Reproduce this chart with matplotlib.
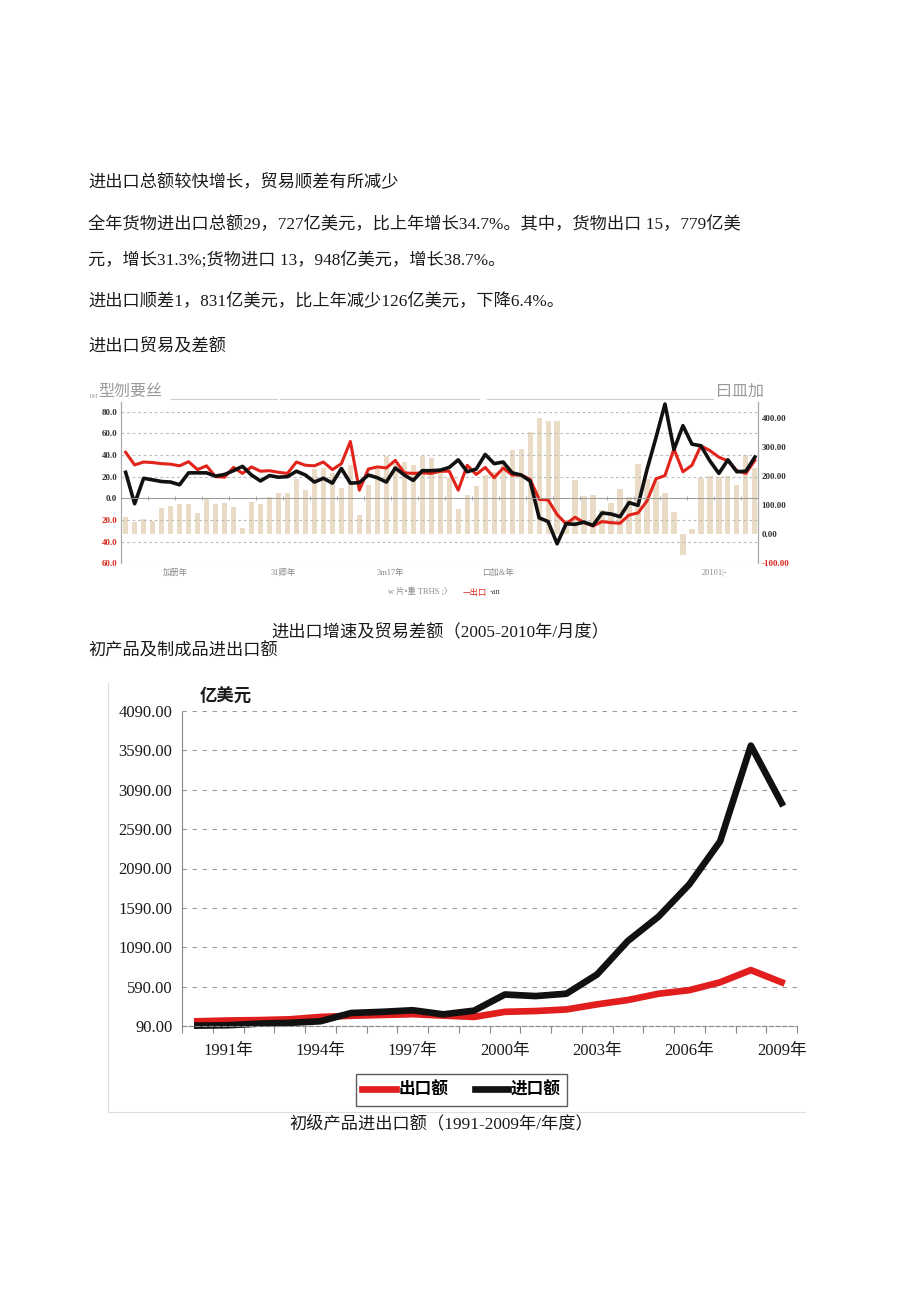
import numpy as np
import matplotlib
matplotlib.use('Agg')
import matplotlib.pyplot as plt
import matplotlib.transforms as mtransforms
from matplotlib.lines import Line2D

plt.rcParams['font.family'] = ['Noto Sans CJK SC', 'DejaVu Sans']

W, H = 920, 1301

# chart 1: monthly, 2005-01 .. 2010-11
export_growth = [42.5, 30.8, 33.5, 33.0, 32.0, 31.5, 30.0, 33.8, 26.5, 30.0,
                 20.0, 19.5, 28.5, 23.0, 29.0, 25.0, 25.5, 24.0, 23.0, 33.5,
                 30.5, 30.0, 33.5, 26.5, 32.0, 52.5, 7.5, 27.0, 29.0, 28.0,
                 35.0, 23.5, 23.0, 23.5, 23.0, 25.0, 25.0, 7.5, 30.5, 22.0,
                 28.5, 19.0, 28.0, 21.5, 21.5, 17.5, -1.0, -1.5, -15.0, -23.5,
                 -17.5, -22.5, -25.5, -21.5, -22.5, -23.0, -15.5, -13.5, -2.5, 18.0,
                 21.0, 45.5, 24.5, 30.5, 48.5, 44.0, 38.0, 34.5, 25.5, 23.0,
                 35.0]
import_growth = [24.0, -5.0, 18.5, 17.0, 15.5, 15.0, 12.5, 23.5, 23.5, 23.5,
                 20.5, 22.0, 25.5, 29.5, 21.5, 16.0, 21.0, 19.5, 20.0, 25.0,
                 21.5, 15.0, 18.5, 14.0, 27.5, 14.0, 14.5, 21.5, 19.0, 15.0,
                 28.0, 21.5, 16.5, 25.5, 25.5, 26.0, 28.5, 35.5, 24.5, 27.0,
                 40.5, 32.0, 33.5, 23.5, 21.5, 16.0, -18.0, -21.5, -42.0, -23.5,
                 -24.0, -22.0, -25.0, -13.5, -14.5, -17.0, -4.0, -6.5, 26.5, 56.0,
                 87.0, 45.0, 67.0, 50.0, 48.5, 34.5, 23.0, 35.5, 24.5, 25.0,
                 38.0]
trade_balance = [60, 42, 52, 45, 89, 97, 104, 103, 73, 120,
                 104, 109, 93, 21, 112, 104, 129, 143, 143, 189,
                 152, 225, 229, 212, 159, 237, 67, 168, 224, 268,
                 243, 249, 239, 270, 263, 227, 195, 85, 134, 167,
                 202, 213, 252, 288, 294, 353, 401, 390, 391, 48,
                 186, 131, 134, 83, 106, 157, 129, 240, 191, 184,
                 142, 76, -72, 17, 195, 200, 198, 200, 169, 272,
                 229]
month_labels = ['加册年', '31卿年', '3m17年', '口加&年', '20101|-']
month_label_pos = [5.5, 17.5, 29.5, 41.5, 65.5]
left_ticks = [80, 60, 40, 20, 0, -20, -40, -60]
right_ticks = [400, 300, 200, 100, 0, -100]

# chart 2: yearly
years = list(range(1990, 2010))
primary_export = [150, 160, 165, 175, 205, 220, 230, 240, 222, 205,
                  270, 280, 300, 365, 420, 500, 545, 645, 800, 645]
primary_import = [95, 100, 120, 130, 150, 255, 270, 290, 238, 285,
                  490, 470, 500, 745, 1170, 1480, 1890, 2435, 3650, 2920]
label_years = [1991, 1994, 1997, 2000, 2003, 2006, 2009]
y2_ticks = [90, 590, 1090, 1590, 2090, 2590, 3090, 3590, 4090]

SERIF = ['Liberation Serif', 'Noto Sans CJK SC']


def fx(x):
    return x / W


def fy(y):
    return 1 - y / H


fig = plt.figure(figsize=(W / 100, H / 100), dpi=100)


def body(x, y, s, ha='left', **kw):
    fig.text(fx(x), fy(y), s, fontsize=12.4, va='center', ha=ha,
             color='#1a1a1a', family=SERIF, **kw)


body(88, 183, '进出口总额较快增长，贸易顺差有所减少')
body(88, 225, '全年货物进出口总额29，727亿美元，比上年增长34.7%。其中，货物出口 15，779亿美')
body(88, 261, '元，增长31.3%;货物进口 13，948亿美元，增长38.7%。')
body(88, 302, '进出口顺差1，831亿美元，比上年减少126亿美元，下降6.4%。')
body(88, 347, '进出口贸易及差额')

# header of chart 1
fig.text(fx(88), fy(397), '1M', fontsize=5, color='#999', va='center', family=SERIF)
fig.text(fx(98), fy(391), '型刎要丝', fontsize=11.5, color='#9a9a9a', va='center')
fig.text(fx(716), fy(391), '曰皿加', fontsize=11.5, color='#9a9a9a', va='center')
for a, b in [(171, 277), (280, 479), (487, 713)]:
    fig.add_artist(Line2D([fx(a), fx(b)], [fy(399), fy(399)], color='#cfcfcf', lw=0.8))

# chart 1
ax1 = fig.add_axes([fx(120.7), fy(563.3), (758 - 120.7) / W, (563.3 - 401.9) / H])
ax1r = ax1.twinx()
ax1.set_zorder(ax1r.get_zorder() + 1)
ax1.patch.set_visible(False)

x = np.arange(len(export_growth))
ax1r.bar(x, trade_balance, width=0.58, color='#e9dbc5', linewidth=0)
ax1.plot(x, export_growth, color='#e2231a', lw=2.2)
ax1.plot(x, import_growth, color='#111111', lw=2.6)

ax1.set_xlim(-0.55, 70.35)
ax1.set_ylim(-60, 89)
ax1r.set_ylim(-100, 455)

ax1.set_yticks(left_ticks)
ax1.set_yticklabels([f'{abs(v):.1f}' for v in left_ticks])
for lab, v in zip(ax1.get_yticklabels(), left_ticks):
    lab.set_color('#d8281e' if v < 0 else '#333333')
    lab.set_fontfamily('Liberation Serif')
    lab.set_fontweight('bold')
ax1.tick_params(axis='y', length=0, pad=2.5, labelsize=6.5)

ax1r.set_yticks(right_ticks)
ax1r.set_yticklabels([f'{v:.2f}' for v in right_ticks])
for lab, v in zip(ax1r.get_yticklabels(), right_ticks):
    lab.set_color('#d8281e' if v < 0 else '#333333')
    lab.set_fontfamily('Liberation Serif')
    lab.set_fontweight('bold')
ax1r.tick_params(axis='y', length=0, pad=2.5, labelsize=6.5)

ax1.grid(axis='y', color='#bcbcbc', ls=(0, (2.5, 2.5)), lw=0.8)
ax1.set_xticks([])
ax1.set_xticks(np.arange(2.5, 70, 3), minor=True)
ax1.tick_params(axis='x', which='minor', length=2.5, direction='inout',
                color='#999999', width=0.6)

ax1.spines['top'].set_visible(False)
ax1.spines['right'].set_visible(False)
ax1.spines['bottom'].set_position(('data', 0))
ax1.spines['bottom'].set_color('#999999')
ax1.spines['bottom'].set_linewidth(0.7)
ax1.spines['left'].set_color('#aaaaaa')
ax1.spines['left'].set_linewidth(0.9)
for s in ['top', 'bottom', 'left']:
    ax1r.spines[s].set_visible(False)
ax1r.spines['right'].set_color('#aaaaaa')
ax1r.spines['right'].set_linewidth(0.9)

trans = mtransforms.blended_transform_factory(ax1.transData, ax1.transAxes)
for pos, lab in zip(month_label_pos, month_labels):
    ax1.text(pos, -0.06, lab, transform=trans, ha='center', va='center',
             fontsize=6, color='#888888', family=SERIF)

fig.text(fx(388), fy(592), 'w 片•重 TRHS ;〉', fontsize=6, color='#888888',
         va='center', family=SERIF)
fig.text(fx(463), fy(592), '—出口', fontsize=6, color='#e2231a', va='center')
fig.text(fx(490), fy(592), '-an', fontsize=6, color='#444444', va='center', family=SERIF)

body(440, 633, '进出口增速及贸易差额（2005-2010年/月度）', ha='center')
body(88, 651, '初产品及制成品进出口额')

# chart 2 frame
fig.add_artist(Line2D([fx(108), fx(108)], [fy(683), fy(1112)], color='#dddddd', lw=0.8))
fig.add_artist(Line2D([fx(108), fx(805)], [fy(1112), fy(1112)], color='#dddddd', lw=0.8))

ax2 = fig.add_axes([fx(182), fy(1026), 615 / W, 315 / H])
ax2.plot(years, primary_export, color='#e11d1d', lw=4.8, label='出口额', clip_on=False)
ax2.plot(years, primary_import, color='#111111', lw=4.8, label='进口额', clip_on=False)
ax2.set_xlim(1989.5, 2009.5)
ax2.set_ylim(90, 4090)

ax2.set_yticks(y2_ticks)
ax2.set_yticklabels([f'{v:.2f}' for v in y2_ticks])
ax2.set_xticks(label_years)
ax2.set_xticklabels([f'{y}年' for y in label_years])
ax2.set_xticks(np.arange(1989.5, 2010, 1), minor=True)
for lab in ax2.get_yticklabels() + ax2.get_xticklabels():
    lab.set_fontfamily(SERIF)
    lab.set_color('#1a1a1a')
ax2.tick_params(axis='y', length=0, pad=7, labelsize=12)
ax2.tick_params(axis='x', which='major', length=0, pad=12, labelsize=12)
ax2.tick_params(axis='x', which='minor', length=5, color='#888888', width=0.8)

ax2.grid(axis='y', color='#9a9a9a', ls=(0, (4, 5)), lw=0.8)
ax2.spines['top'].set_visible(False)
ax2.spines['right'].set_visible(False)
ax2.spines['left'].set_color('#888888')
ax2.spines['left'].set_linestyle((0, (1, 1)))
ax2.spines['left'].set_linewidth(0.8)
ax2.spines['bottom'].set_color('#888888')
ax2.spines['bottom'].set_linestyle((0, (4, 2)))
ax2.spines['bottom'].set_linewidth(0.8)

fig.text(fx(226), fy(697), '亿美元', fontsize=12.5, fontweight='bold',
         ha='center', va='center', color='#1a1a1a')

leg = ax2.legend(loc='center', bbox_to_anchor=(fx(461.5), fy(1090)),
                 bbox_transform=fig.transFigure, ncol=2, frameon=True,
                 fancybox=False, edgecolor='#333333',
                 prop={'family': ['Noto Sans CJK SC'], 'weight': 'bold', 'size': 12},
                 handlelength=2.0, handletextpad=0.15, columnspacing=1.6,
                 borderpad=0.4)
leg.get_frame().set_linewidth(1.0)

body(441, 1124, '初级产品进出口额（1991-2009年/年度）', ha='center')

fig.savefig('out.png', dpi=100)
